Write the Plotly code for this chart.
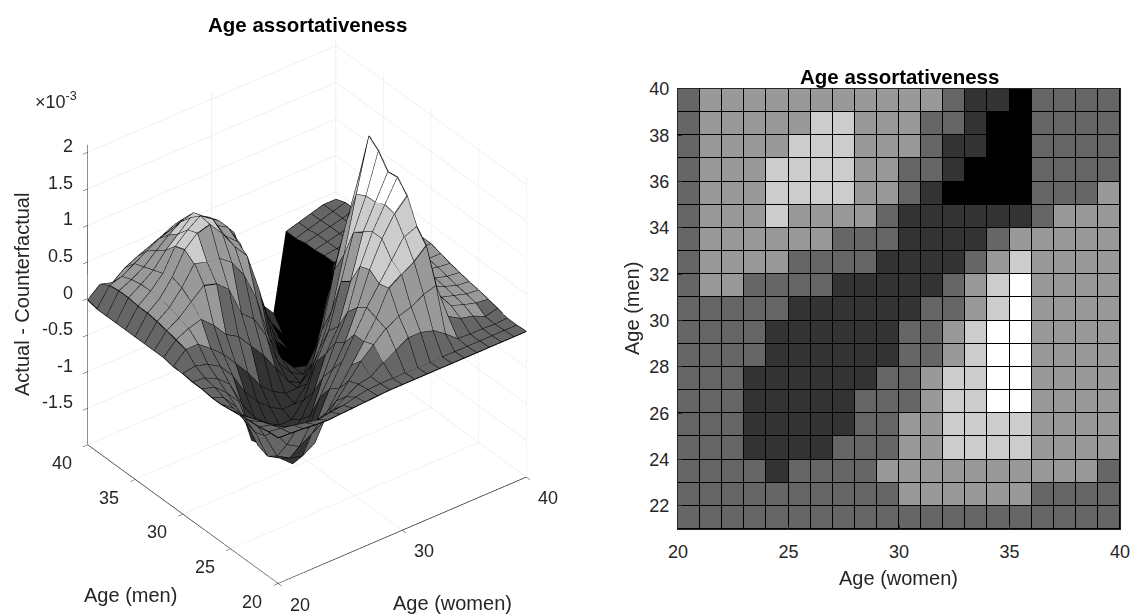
import plotly.graph_objects as go

# Age grids
ages_women = list(range(20, 41))
ages_men = list(range(20, 41))

# Actual - Counterfactual (x 10^-3); one row per age of men (20..40), one column per age of women (20..40)
z_rows = [
    [-.01,-.02,-.03,-.05,-.06,-.05,-.04,-.03,-.02,-.01,-.01,-.01,-.01,-.01,-.01,-.01,-.01,-.01,-.01,-.01,-.01],
    [-.02,-.05,-.08,-.12,-.15,-.12,-.1,-.06,-.03,-.02,-.02,-.02,-.02,-.02,-.02,-.02,-.02,-.02,-.02,-.02,-.02],
    [-.05,-.1,-.2,-.3,-.35,-.3,-.25,-.15,-.05,-.02,.1,.2,.3,.3,.25,.13,-.01,-.02,-.02,-.03,-.02],
    [-.06,-.15,-.35,-.6,-.7,-.6,-.5,-.3,-.1,.1,.25,.4,.5,.55,.65,.7,.2,.1,.06,-.02,.02],
    [-.08,-.2,-.5,-.85,-.95,-1.0,-.9,-.55,-.3,-.05,.2,.45,.79,.9,1.0,1.15,.4,.18,.12,.07,.05],
    [-.1,-.25,-.55,-.95,-1.05,-1.2,-1.1,-.75,-.4,-.1,.2,.5,.75,1.0,1.25,1.32,.45,.2,.15,.1,.08],
    [-.12,-.25,-.5,-.9,-1.05,-1.15,-1.25,-1.0,-.6,-.3,0,.4,.85,1.2,1.47,1.64,.5,.25,.18,.12,.1],
    [-.12,-.2,-.4,-.75,-1.05,-1.23,-1.3,-1.25,-.95,-.5,-.1,.25,.8,1.2,1.5,1.8,.55,.28,.2,.15,.13],
    [-.1,-.15,-.3,-.5,-1.09,-1.15,-1.25,-1.25,-1.1,-.8,-.35,-.05,.5,1.1,1.44,1.78,.6,.3,.22,.18,.16],
    [-.1,-.12,-.2,-.35,-.7,-.95,-1.1,-1.2,-1.2,-1.0,-.55,-.2,.4,1.0,1.43,1.97,.6,.32,.25,.2,.2],
    [-.08,-.05,-.1,-.2,-.4,-.7,-.9,-1.05,-1.15,-1.15,-.95,-.55,-.1,.6,1.36,2.08,.6,.35,.28,.25,.24],
    [-.08,.08,.08,-.05,-.2,-.4,-.6,-.85,-1.0,-1.1,-1.1,-.95,-.45,.3,.9,1.45,.55,.35,.28,.25,.24],
    [-.05,.12,.2,.25,.1,-.1,-.2,-.4,-.6,-.85,-1.1,-1.2,-1.0,-.35,.2,.8,.45,.3,.27,.25,.22],
    [-.05,.15,.25,.4,.55,.5,.35,-.05,-.2,-.5,-.95,-1.15,-1.25,-.95,-.3,.3,.15,.18,.2,.2,.18],
    [-.05,.18,.3,.5,.75,.7,.68,.55,.3,-.1,-.7,-1.05,-1.25,-1.3,-1.25,-1.0,-.1,.08,.12,.12,.1],
    [-.05,.2,.33,.55,.85,1.0,1.05,.85,.6,.4,-.15,-.85,-1.35,-1.5,-1.5,-1.45,-.2,-.15,-.1,.06,.02],
    [-.05,.2,.33,.5,.8,.95,1.07,.95,.65,.5,-.05,-.45,-1.05,-1.4,-1.5,-1.5,-.2,-.18,-.14,-.1,-.05],
    [-.05,.22,.33,.45,.65,.8,.95,.9,.7,.6,.3,-.2,-.8,-1.25,-1.45,-1.55,-.22,-.18,-.14,-.1,-.05],
    [-.05,.22,.3,.4,.55,.69,.8,.85,.7,.6,.35,-.05,-.5,-1.15,-1.4,-1.55,-.22,-.18,-.14,-.1,-.05],
    [-.05,.2,.25,.35,.45,.55,.6,.68,.65,.55,.4,.2,-.3,-.9,-1.25,-1.5,-.25,-.2,-.15,-.1,-.05],
    [-.02,.12,.07,.2,.28,.35,.42,.5,.5,.45,.3,.1,-.3,-.9,-1.1,-1.3,-.25,-.2,-.15,-.1,-.1],
]

# colour levels
gray_levels = ["#000000", "#333333", "#666666", "#999999", "#cccccc", "#ffffff"]
z_low, z_high = -2.0, 2.08

x_ticks_2d = [20, 25, 30, 35, 40]
y_ticks_2d = [22, 24, 26, 28, 30, 32, 34, 36, 38, 40]
x_ticks_3d = [20, 30, 40]
y_ticks_3d = [20, 25, 30, 35, 40]
z_ticks_3d = [-1.5, -1, -0.5, 0, 0.5, 1, 1.5, 2]
z_ticktext = ["-1.5", "-1", "-0.5", "0", "0.5", "1", "1.5", "2"]
title_text = "Age assortativeness"

FONT = "Liberation Sans, Arial, sans-serif"
TXT = "#262626"


def level_colour(v):
    i = int((v - z_low) / (z_high - z_low) * len(gray_levels))
    return gray_levels[max(0, min(len(gray_levels) - 1, i))]


nx, ny = len(ages_women), len(ages_men)
vx, vy, vz = [], [], []
for j in range(ny):
    for i in range(nx):
        vx.append(ages_women[i]); vy.append(ages_men[j]); vz.append(z_rows[j][i])
ti, tj, tk, fc = [], [], [], []
for j in range(ny - 1):
    for i in range(nx - 1):
        a = j * nx + i; b = a + 1; c = a + nx; d = c + 1
        col = level_colour(z_rows[j][i])
        ti += [a, a]; tj += [b, d]; tk += [d, c]; fc += [col, col]

wx, wy, wz = [], [], []
for j in range(ny):
    for i in range(nx):
        wx.append(ages_women[i]); wy.append(ages_men[j]); wz.append(z_rows[j][i])
    wx.append(None); wy.append(None); wz.append(None)
for i in range(nx):
    for j in range(ny):
        wx.append(ages_women[i]); wy.append(ages_men[j]); wz.append(z_rows[j][i])
    wx.append(None); wy.append(None); wz.append(None)

fig = go.Figure()
fig.add_trace(go.Mesh3d(x=vx, y=vy, z=vz, i=ti, j=tj, k=tk, facecolor=fc, flatshading=True,
                        lighting=dict(ambient=1, diffuse=0, specular=0, fresnel=0, roughness=1),
                        hoverinfo="skip", showscale=False))
fig.add_trace(go.Scatter3d(x=wx, y=wy, z=wz, mode="lines", line=dict(color="#000000", width=2),
                           hoverinfo="skip", showlegend=False))

# right panel: one cell per (women, men) age pair from 21 up
n = len(gray_levels)
scale = []
for k, c in enumerate(gray_levels):
    scale += [[k / n, c], [(k + 1) / n, c]]
fig.add_trace(go.Heatmap(x=ages_women, y=ages_men[1:], z=[r[:-1] for r in z_rows[1:-1]],
                         zmin=z_low, zmax=z_high, colorscale=scale, showscale=False,
                         xgap=1, ygap=1, xaxis="x", yaxis="y"))

W, H = 1138, 614
ax3 = dict(showbackground=False, showgrid=True, gridcolor="#e3e3e3", gridwidth=1, zeroline=False,
           showline=True, linecolor="#262626", linewidth=1.5, ticks="outside", ticklen=6, tickcolor="#262626",
           showticklabels=False, title=dict(text=""), showspikes=False)


def note(text, px, py, size=20, color=TXT, angle=0):
    return dict(text=text, x=px / W, y=1 - py / H, xref="paper", yref="paper", showarrow=False,
                xanchor="center", yanchor="middle", textangle=angle, font=dict(size=size, color=color))


def tick3d(text, x, y, z, dx, dy, anchor="center"):
    return dict(text=text, x=x, y=y, z=z, showarrow=False, xanchor=anchor, yanchor="middle",
                xshift=dx, yshift=dy, font=dict(family=FONT, size=18, color=TXT))


scene_notes = (
    [tick3d(str(v), v, 20, -2, 22, -21) for v in x_ticks_3d]
    + [tick3d(str(v), 20, v, -2, -26, -18) for v in y_ticks_3d]
    + [tick3d(t, 20, 40, v, -13, 6, "right") for v, t in zip(z_ticks_3d, z_ticktext)]
)

fig.update_layout(
    width=W, height=H, margin=dict(l=0, r=0, t=0, b=0), paper_bgcolor="white", plot_bgcolor="black",
    font=dict(family=FONT, size=18, color=TXT), showlegend=False,
    scene=dict(
        domain=dict(x=[0.0, 0.5396], y=[0.0145, 0.9725]),
        aspectmode="manual", aspectratio=dict(x=1.064, y=1.064, z=1.23),
        camera=dict(projection=dict(type="orthographic"),
                    eye=dict(x=-0.841, y=-1.096, z=0.931), up=dict(x=0, y=0, z=1), center=dict(x=0, y=0, z=0)),
        xaxis=dict(ax3, range=[20, 40], tickvals=x_ticks_3d),
        yaxis=dict(ax3, range=[20, 40], tickvals=y_ticks_3d),
        zaxis=dict(ax3, range=[-2, 2.1], tickvals=z_ticks_3d),
        annotations=scene_notes,
    ),
    xaxis=dict(domain=[678 / W, 1120 / W], range=[20, 40], tickvals=x_ticks_2d, ticks="inside", ticklen=4,
               automargin=False, tickcolor="#262626", showline=True, linecolor="#262626", mirror=True,
               showgrid=False, zeroline=False, ticklabelstandoff=6, tickfont=dict(size=18, color=TXT)),
    yaxis=dict(domain=[1 - 529 / H, 1 - 89 / H], range=[21, 40], tickvals=y_ticks_2d, ticks="inside", ticklen=4,
               automargin=False, tickcolor="#262626", showline=True, linecolor="#262626", mirror=True,
               showgrid=False, zeroline=False, ticklabelstandoff=4, tickfont=dict(size=18, color=TXT)),
    annotations=[
        note("<b>" + title_text + "</b>", 307, 24, size=20.5, color="black"),
        note("<b>" + title_text + "</b>", 899, 76, size=20.5, color="black"),
        note("Actual - Counterfactual", 22, 295, angle=-90),
        note("Age (men)", 130, 595),
        note("Age (women)", 452, 603),
        note("×10<sup>-3</sup>", 56, 101, size=18),
        note("Age (women)", 898, 578),
        note("Age (men)", 632, 309, angle=-90),
    ],
)
fig.write_html("out.html", config=dict(displayModeBar=False),
               post_script="document.body.style.margin='0';document.body.style.overflow='hidden';")
